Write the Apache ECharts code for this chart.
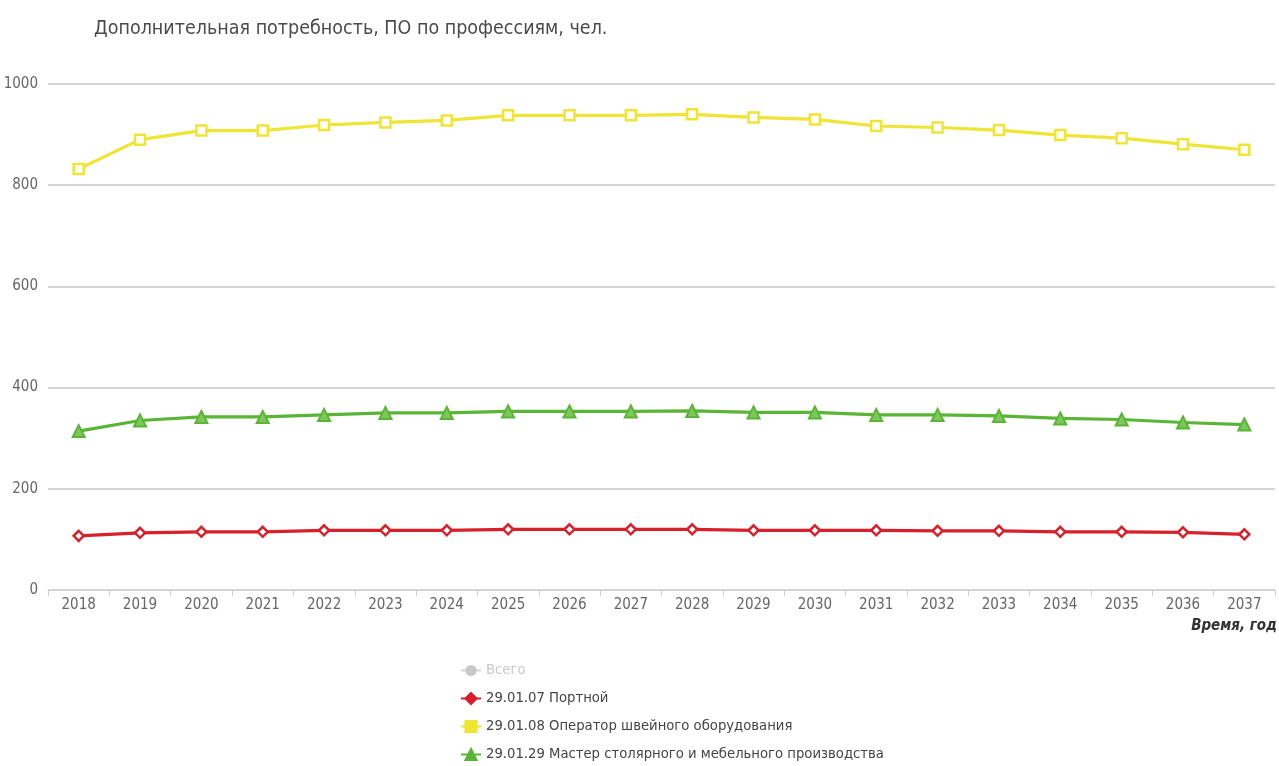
<!DOCTYPE html>
<html><head><meta charset="utf-8">
<script src="https://cdn.jsdelivr.net/npm/echarts@6/dist/echarts.min.js"></script>
<style>html,body{margin:0;padding:0;background:#fff}#c{width:1279px;height:766px}</style>
</head><body><div id="c"></div>
<script>
const years = ['2018','2019','2020','2021','2022','2023','2024','2025','2026','2027','2028','2029','2030','2031','2032','2033','2034','2035','2036','2037'];
const totalName = 'Всего';
const tailorName = '29.01.07 Портной';
const operatorName = '29.01.08 Оператор швейного оборудования';
const carpenterName = '29.01.29 Мастер столярного и мебельного производства';
const tailor = [107,113,115,115,118,118,118,120,120,120,120,118,118,118,117,117,115,115,114,110];
const operator = [832,890,908,908,919,924,928,938,938,938,940,934,930,917,914,909,899,893,881,870];
const carpenter = [314,335,342,342,346,350,350,353,353,353,354,351,351,346,346,344,339,337,331,327];
const yTicks = {min:0, max:1000, interval:200};

const RED = '#d9202a', YEL = '#efe534', GRN = '#5ab436';
const FONT = '"DejaVu Sans Condensed","Liberation Sans Narrow",sans-serif';
const chart = echarts.init(document.getElementById('c'));
chart.setOption({
  animation:false,
  title:{text:'Дополнительная потребность, ПО по профессиям, чел.', left:89, top:14,
    textStyle:{fontFamily:FONT, fontSize:19.5, fontWeight:'normal', color:'#4a4a4a'}},
  grid:{left:48, right:4, top:84, bottom:176, containLabel:false},
  legend:{orient:'vertical', left:460, top:663, height:110, padding:0, itemGap:13, itemWidth:20, itemHeight:14,
    data:[
      {name:totalName},
      {name:tailorName, itemStyle:{color:RED, borderColor:RED}},
      {name:operatorName, itemStyle:{color:YEL, borderColor:YEL}},
      {name:carpenterName, itemStyle:{color:GRN, borderColor:GRN}}
    ],
    selected:{[totalName]:false},
    inactiveColor:'#c8c8c8',
    textStyle:{fontFamily:FONT, fontSize:14.7, color:'#444'}},
  xAxis:{type:'category', data:years, boundaryGap:true,
    axisLine:{show:true, lineStyle:{color:'#d0d0d0', width:1}},
    axisTick:{show:true, alignWithLabel:false, length:6, lineStyle:{color:'#d0d0d0'}},
    axisLabel:{fontFamily:FONT, fontSize:15, color:'#666', margin:8}},
  yAxis:{type:'value', min:yTicks.min, max:yTicks.max, interval:yTicks.interval,
    axisLine:{show:false}, axisTick:{show:false},
    axisLabel:{fontFamily:FONT, fontSize:15, color:'#666', margin:10, formatter:v=>String(v)},
    splitLine:{lineStyle:{color:'#c8c8c8', width:1.5}}},
  graphic:[{type:'text', right:2, top:619,
    style:{text:'Время, год', fontFamily:FONT, fontSize:15, fontWeight:'bold', fontStyle:'italic', fill:'#333'}}],
  series:[
    {name:totalName, type:'line', data:[], color:'#999', symbol:'circle'},
    {name:tailorName, type:'line', data:tailor, color:RED, symbol:'diamond', symbolSize:10,
      lineStyle:{width:3.2, color:RED}, itemStyle:{color:'#fff', borderColor:RED, borderWidth:2.5}},
    {name:operatorName, type:'line', data:operator, color:YEL, symbol:'rect', symbolSize:10,
      lineStyle:{width:3.2, color:YEL}, itemStyle:{color:'#fff', borderColor:YEL, borderWidth:2.5}},
    {name:carpenterName, type:'line', data:carpenter, color:GRN, symbol:'triangle', symbolSize:12,
      lineStyle:{width:3.2, color:GRN}, itemStyle:{color:'#7cc85a', borderColor:GRN, borderWidth:2}}
  ]
});
</script></body></html>
